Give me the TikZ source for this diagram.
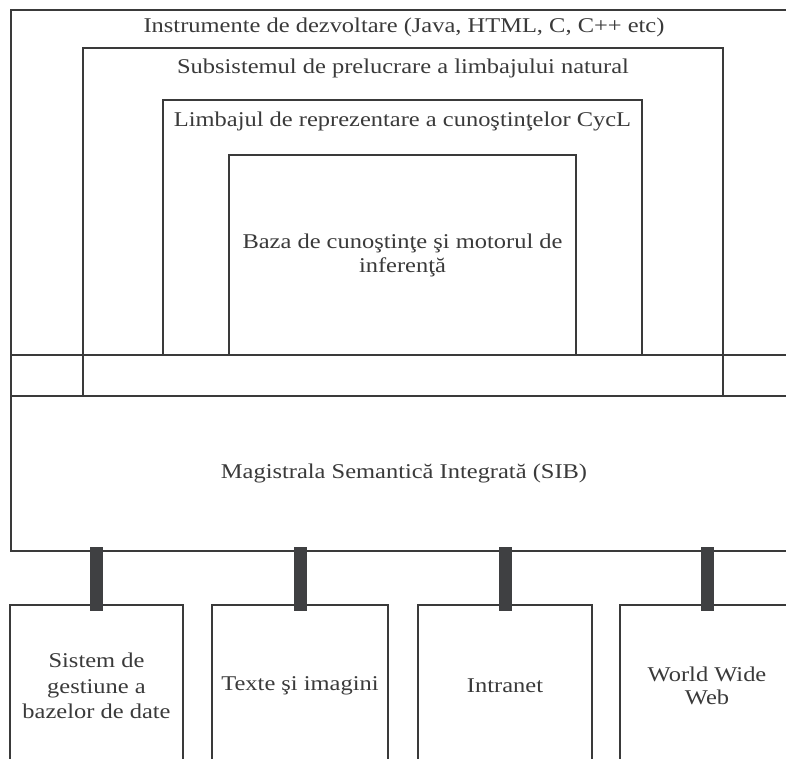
\documentclass[tikz,border=0pt]{standalone}
\usepackage{fontspec}
\setmainfont{Liberation Serif}[FakeStretch=1.165]
\usetikzlibrary{calc}
\definecolor{ink}{HTML}{3A3A3A}
\definecolor{busgray}{HTML}{3F4042}
\begin{document}
\begin{tikzpicture}[x=1pt,y=-1pt,
  frame/.style={draw=ink, line width=1.2pt, rectangle, inner sep=0pt, outer sep=0pt, anchor=north west},
  lbl/.style={text=ink, font=\fontsize{21}{24}\selectfont, align=center, inner sep=0pt},
  bus/.style={draw=busgray, line width=13pt, shorten <=-4pt, shorten >=-6pt}]
\path[use as bounding box, fill=white] (0,0) rectangle (786,759);
\clip (0,0) rectangle (786,759);

% nested layers of the architecture
\node[frame, minimum width=786pt, minimum height=541pt] (tools) at (11,10) {};
\node[frame, minimum width=640pt, minimum height=348pt] (nlp) at (83,48) {};
\node[frame, minimum width=479pt, minimum height=255pt] (cycl) at (163,100) {};
\node[frame, lbl, minimum width=347pt, minimum height=200pt] (kb) at (229,155)
  {Baza de cunoştinţe şi motorul de\\inferenţă};

% semantic bus
\node[frame, lbl, minimum width=786pt, minimum height=155pt] (sib) at (11,396)
  {Magistrala Semantică Integrată (SIB)};
\draw[draw=ink, line width=1.2pt] (tools.west |- kb.south) -- (tools.east |- kb.south);

% layer titles
\node[lbl] (toolsname) at ([yshift=-17pt]tools.north) {Instrumente de dezvoltare (Java, HTML, C, C++ etc)};
\node[lbl] (nlpname) at ([yshift=-20pt]nlp.north) {Subsistemul de prelucrare a limbajului natural};
\node[lbl] (cyclname) at ([yshift=-21pt]cycl.north) {Limbajul de reprezentare a cunoştinţelor CycL};

% data sources
\node[frame, lbl, font=\fontsize{21}{25.5}\selectfont, minimum width=173pt, minimum height=162pt] (dbms) at (10,605)
  {Sistem de\\gestiune a\\bazelor de date};
\node[frame, lbl, minimum width=176pt, minimum height=162pt] (media) at (212,605) {Texte şi imagini};
\node[frame, lbl, minimum width=174pt, minimum height=162pt] (intranet) at (418,605) {Intranet};
\node[frame, lbl, font=\fontsize{21}{23}\selectfont, minimum width=174pt, minimum height=162pt] (www) at (620,605)
  {World Wide\\Web};

% bus connectors
\foreach \n in {dbms,media,intranet,www}
  \draw[bus] (sib.south -| \n.north) -- (\n.north);
\end{tikzpicture}
\end{document}
